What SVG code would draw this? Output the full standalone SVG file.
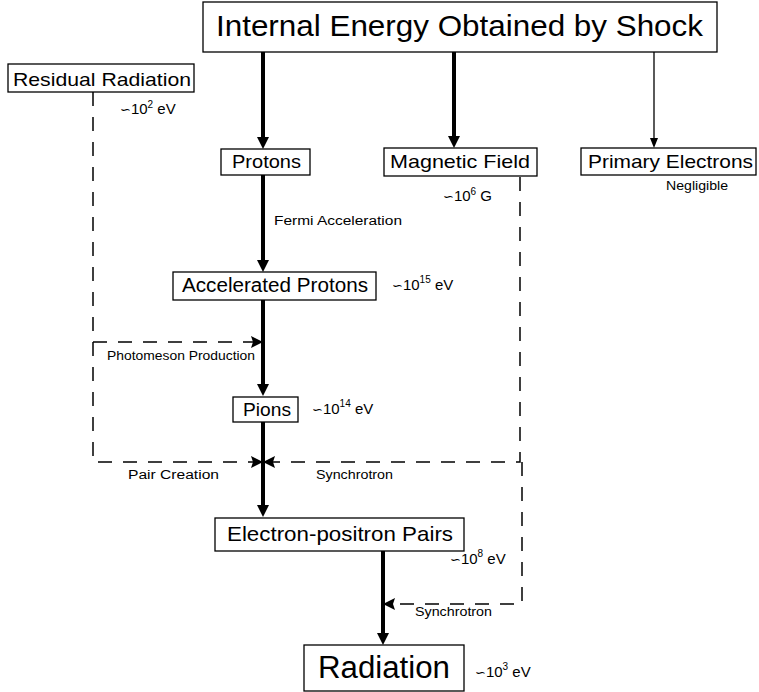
<svg xmlns="http://www.w3.org/2000/svg" width="759" height="692" viewBox="0 0 759 692">
<defs>
<style>
text{font-family:"Liberation Sans","DejaVu Sans",sans-serif;fill:#000}
.sim{font-family:"DejaVu Sans",sans-serif}
.box{fill:#fff;stroke:#000;stroke-width:1.3}
.thick{stroke:#000;stroke-width:4;fill:none}
.thin{stroke:#000;stroke-width:1.3;fill:none}
.dash{stroke:#000;stroke-width:1.5;fill:none;stroke-dasharray:14 11}
.lab{font-size:12px}
.val{font-size:15px}
</style>
<marker id="ah" markerUnits="userSpaceOnUse" markerWidth="14" markerHeight="14" refX="1" refY="6" orient="auto" viewBox="0 0 14 14"><path d="M0,0 L12,6 L0,12 z" fill="#000"/></marker>
<marker id="ahs" markerUnits="userSpaceOnUse" markerWidth="12" markerHeight="10" refX="1" refY="4" orient="auto" viewBox="0 0 12 10"><path d="M0,0 L10,4 L0,8 z" fill="#000"/></marker>
<marker id="ahd" markerUnits="userSpaceOnUse" markerWidth="14" markerHeight="14" refX="2" refY="6" orient="auto" viewBox="0 0 14 14"><path d="M0,0 L12,6 L0,12 L2,6 z" fill="#000"/></marker>
</defs>

<g id="connectors">
<line class="thick" x1="263" y1="52" x2="263" y2="138" marker-end="url(#ah)"/>
<line class="thick" x1="454" y1="52" x2="454" y2="137" marker-end="url(#ah)"/>
<line class="thin" x1="654" y1="52" x2="654" y2="139" marker-end="url(#ahs)"/>
<line class="thick" x1="263" y1="175" x2="263" y2="261" marker-end="url(#ah)"/>
<line class="thick" x1="263" y1="300" x2="263" y2="385" marker-end="url(#ah)"/>
<line class="thick" x1="263" y1="422" x2="263" y2="506" marker-end="url(#ah)"/>
<line class="thick" x1="383" y1="551" x2="383" y2="634" marker-end="url(#ah)"/>
<path class="dash" d="M93,342 H253" marker-end="url(#ahd)"/>
<path class="dash" d="M93,92 V462 H253" marker-end="url(#ahd)"/>
<path class="dash" d="M520,177 V462 H273" marker-end="url(#ahd)"/>
<path class="dash" d="M522,462 V604 H393" marker-end="url(#ahd)"/>
</g>

<g id="internal-energy">
<rect class="box" x="203" y="2" width="514" height="50"/>
<text x="216" y="36" font-size="29" textLength="487" lengthAdjust="spacingAndGlyphs">Internal Energy Obtained by Shock</text>
</g>

<g id="residual-radiation">
<rect class="box" x="8" y="64" width="186" height="28"/>
<text x="13" y="86" font-size="19" textLength="178" lengthAdjust="spacingAndGlyphs">Residual Radiation</text>
<text class="val" x="120" y="114"><tspan class="sim" font-size="13">∽</tspan>10<tspan font-size="10" dy="-6">2</tspan><tspan dy="6"> eV</tspan></text>
</g>

<g id="protons">
<rect class="box" x="221" y="149" width="89" height="26"/>
<text x="232" y="168" font-size="19" textLength="69" lengthAdjust="spacingAndGlyphs">Protons</text>
</g>

<g id="magnetic-field">
<rect class="box" x="384" y="148" width="153" height="28"/>
<text x="390" y="168" font-size="19" textLength="140" lengthAdjust="spacingAndGlyphs">Magnetic Field</text>
<text class="val" x="443" y="201"><tspan class="sim" font-size="13">∽</tspan>10<tspan font-size="10" dy="-6">6</tspan><tspan dy="6"> G</tspan></text>
</g>

<g id="primary-electrons">
<rect class="box" x="581" y="148" width="175" height="27"/>
<text x="588" y="168" font-size="19" textLength="165" lengthAdjust="spacingAndGlyphs">Primary Electrons</text>
<text class="lab" x="666" y="190" textLength="62" lengthAdjust="spacingAndGlyphs">Negligible</text>
</g>

<text class="lab" x="274" y="225" textLength="128" lengthAdjust="spacingAndGlyphs">Fermi Acceleration</text>

<g id="accelerated-protons">
<rect class="box" x="173" y="272" width="203" height="28"/>
<text x="182" y="292" font-size="20" textLength="186" lengthAdjust="spacingAndGlyphs">Accelerated Protons</text>
<text class="val" x="392" y="290"><tspan class="sim" font-size="13">∽</tspan>10<tspan font-size="10" dy="-7">15</tspan><tspan dy="7"> eV</tspan></text>
</g>

<text class="lab" x="107" y="360" textLength="148" lengthAdjust="spacingAndGlyphs">Photomeson Production</text>

<g id="pions">
<rect class="box" x="233" y="397" width="65" height="25"/>
<text x="243" y="416" font-size="19" textLength="48" lengthAdjust="spacingAndGlyphs">Pions</text>
<text class="val" x="312" y="414"><tspan class="sim" font-size="13">∽</tspan>10<tspan font-size="10" dy="-7">14</tspan><tspan dy="7"> eV</tspan></text>
</g>

<text class="lab" x="128" y="479" textLength="91" lengthAdjust="spacingAndGlyphs">Pair Creation</text>
<text class="lab" x="316" y="479" textLength="77" lengthAdjust="spacingAndGlyphs">Synchrotron</text>

<g id="electron-positron-pairs">
<rect class="box" x="215" y="518" width="249" height="33"/>
<text x="227" y="541" font-size="21" textLength="226" lengthAdjust="spacingAndGlyphs">Electron-positron Pairs</text>
<text class="val" x="450" y="564"><tspan class="sim" font-size="13">∽</tspan>10<tspan font-size="10" dy="-7">8</tspan><tspan dy="7"> eV</tspan></text>
</g>

<text class="lab" x="415" y="616" textLength="77" lengthAdjust="spacingAndGlyphs">Synchrotron</text>

<g id="radiation">
<rect class="box" x="304" y="645" width="160" height="46"/>
<text x="318" y="678" font-size="31" textLength="132" lengthAdjust="spacingAndGlyphs">Radiation</text>
<text class="val" x="475" y="677"><tspan class="sim" font-size="13">∽</tspan>10<tspan font-size="10" dy="-7">3</tspan><tspan dy="7"> eV</tspan></text>
</g>
</svg>
